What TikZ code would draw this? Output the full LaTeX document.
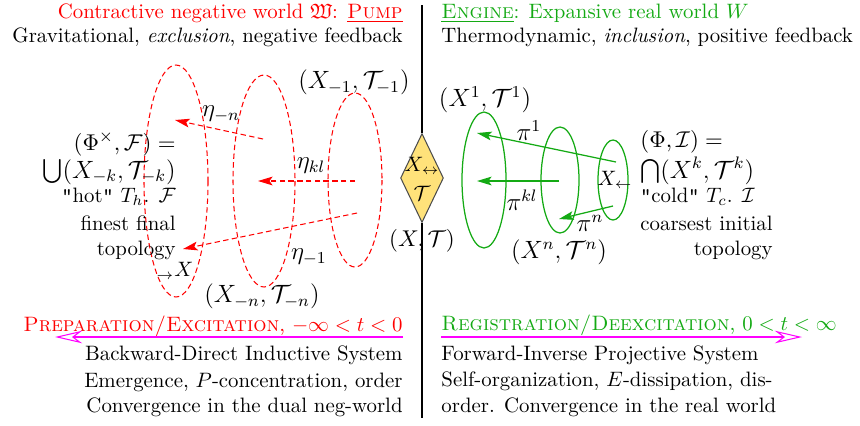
\documentclass[tikz,border=0pt]{standalone}
\usepackage{amssymb}
\usepackage{fontspec}
\usetikzlibrary{arrows.meta,shapes.geometric}
\definecolor{rgreen}{RGB}{20,170,20}
\definecolor{dyellow}{RGB}{255,226,122}
\definecolor{mag}{RGB}{255,0,255}
\newcommand{\sq}{{\ttfamily\symbol{34}}}
\begin{document}
\begin{tikzpicture}[x=0.48pt,y=-0.48pt,
  txt/.style={inner sep=0pt},
  mlbl/.style={inner sep=0pt,font=\large},
  redell/.style={red,line width=0.5pt,dash pattern=on 2.6pt off 1.6pt},
  grnell/.style={rgreen,line width=0.6pt},
  redarr/.style={red,line width=0.5pt,dash pattern=on 2.6pt off 1.6pt,-{Stealth[length=7pt,width=4.2pt,inset=1.5pt]}},
  grnarr/.style={rgreen,line width=0.6pt,-{Stealth[length=7pt,width=4.2pt,inset=1.5pt]}},
  magarr/.style={mag,line width=1.4pt,-{Stealth[open,length=13pt,width=6pt,inset=4pt,line width=0.5pt]}},
  vline/.style={black,line width=0.6pt}
]
\useasboundingbox (0,0) rectangle (860,425);

% central axis and diamond
\coordinate (vtop) at (422,5);
\coordinate (vbot) at (422,418);
\node[diamond,draw=black!70,fill=dyellow,line width=0.5pt,minimum width=20.6pt,minimum height=42.7pt,inner sep=0pt] (dia) at (422,178) {};
\draw[vline] (vtop) -- (dia.north);
\draw[vline] (dia.south) -- (vbot);
\node[txt] (xlr) at (422,166) {$X_{\leftrightarrow}$};
\node[txt] (tcal) at (422,193) {$\mathcal{T}$};
\node[txt,font=\fontsize{11}{13}\selectfont] (xt) at (422,241) {$(X,\mathcal{T})$};

% headers
\node[txt,anchor=base east,text=red] (tl) at (403,18) {Contractive negative world $\mathfrak{W}$: \underline{\textsc{Pump}}};
\node[txt,anchor=base east] (sl) at (403,42) {Gravitational, \emph{exclusion}, negative feedback};
\node[txt,anchor=base west,text=rgreen] (tr) at (441,18) {\underline{\textsc{Engine}}: Expansive real world $W$};
\node[txt,anchor=base west] (sr) at (441,42) {Thermodynamic, \emph{inclusion}, positive feedback};

% red dashed ellipses
\draw[redell] (176,181) ellipse [x radius=32, y radius=116];
\draw[redell] (264,181) ellipse [x radius=31, y radius=106];
\draw[redell] (355,180) ellipse [x radius=27, y radius=87];

% red arrows
\coordinate (a1s) at (263,139); \coordinate (a1e) at (175,120);
\coordinate (a2s) at (355,181); \coordinate (a2e) at (258,181);
\coordinate (a3s) at (357,213); \coordinate (a3e) at (183,249);
\draw[redarr] (a1s) -- (a1e);
\draw[redarr] (a2s) -- (a2e);
\draw[redarr] (a3s) -- (a3e);
\node[mlbl] (etan) at (221,114) {$\eta_{-n}$};
\node[mlbl] (etakl) at (311,166) {$\eta_{kl}$};
\node[mlbl] (eta1) at (309,257) {$\eta_{-1}$};
\node[mlbl] (xm1) at (354,82) {$(X_{-1},\mathcal{T}_{-1})$};
\node[mlbl] (xmn) at (262,296) {$(X_{-n},\mathcal{T}_{-n})$};
\node[txt] (xto) at (175,271) {${}_{\rightarrow}X$};

% left block
\node[txt,anchor=base east,font=\fontsize{11}{13}\selectfont] (phiF) at (176,150) {$(\Phi^{\times},\mathcal{F})=$};
\node[txt,anchor=base east,font=\fontsize{11.5}{13}\selectfont] (cupX) at (176,178) {$\bigcup(X_{-k},\mathcal{T}_{-k})$};
\node[txt,anchor=base east] (hot) at (176,202) {\sq hot\sq{} $T_h$. $\mathcal{F}$};
\node[txt,anchor=base east] (fin) at (176,230) {finest final};
\node[txt,anchor=base east] (topL) at (176,255) {topology};

% green ellipses
\draw[grnell] (484,180) ellipse [x radius=22, y radius=68];
\draw[grnell] (560,180) ellipse [x radius=19, y radius=53];
\draw[grnell] (613,180) ellipse [x radius=15, y radius=40];

% green arrows
\coordinate (g1s) at (616,162); \coordinate (g1e) at (477,133);
\coordinate (g2s) at (559,181); \coordinate (g2e) at (477,181);
\coordinate (g3s) at (613,206); \coordinate (g3e) at (559,219);
\draw[grnarr] (g1s) -- (g1e);
\draw[grnarr] (g2s) -- (g2e);
\draw[grnarr] (g3s) -- (g3e);
\node[mlbl] (pi1) at (529,131) {$\pi^{1}$};
\node[mlbl] (pikl) at (522,200) {$\pi^{kl}$};
\node[mlbl] (pin) at (590,223) {$\pi^{n}$};
\node[mlbl] (x1) at (485,100) {$(X^{1},\mathcal{T}^{1})$};
\node[mlbl] (xn) at (559,252) {$(X^{n},\mathcal{T}^{n})$};
\node[txt] (xfrom) at (615,180) {$X_{\leftarrow}$};

% right block
\node[txt,anchor=base west,font=\fontsize{11}{13}\selectfont] (phiI) at (640,147) {$(\Phi,\mathcal{I})=$};
\node[txt,anchor=base west,font=\fontsize{11.5}{13}\selectfont] (capX) at (640,178) {$\bigcap(X^{k},\mathcal{T}^{k})$};
\node[txt,anchor=base west] (cold) at (640,202) {\sq cold\sq{} $T_c$. $\mathcal{I}$};
\node[txt,anchor=base west] (coarse) at (640,230) {coarsest initial};
\node[txt,anchor=base east] (topR) at (773,255) {topology};

% bottom
\node[txt,anchor=base east,text=red] (prep) at (403,331) {\textsc{Preparation/Excitation}, $-\infty<t<0$};
\node[txt,anchor=base west,text=rgreen] (reg) at (441,330) {\textsc{Registration/Deexcitation}, $0<t<\infty$};
\coordinate (m1s) at (403,337); \coordinate (m1e) at (55,337);
\coordinate (m2s) at (441,337); \coordinate (m2e) at (802,337);
\draw[magarr] (m1s) -- (m1e);
\draw[magarr] (m2s) -- (m2e);

\node[txt,anchor=base east] (bl1) at (403,360) {Backward-Direct Inductive System};
\node[txt,anchor=base east] (bl2) at (403,387) {Emergence, $P$-concentration, order};
\node[txt,anchor=base east] (bl3) at (403,412) {Convergence in the dual neg-world};
\node[txt,anchor=base west] (br1) at (441,360) {Forward-Inverse Projective System};
\node[txt,anchor=base west] (br2) at (441,386) {Self-organization, $E$-dissipation, dis-};
\node[txt,anchor=base west] (br3) at (441,412) {order. Convergence in the real world};
\end{tikzpicture}
\end{document}
